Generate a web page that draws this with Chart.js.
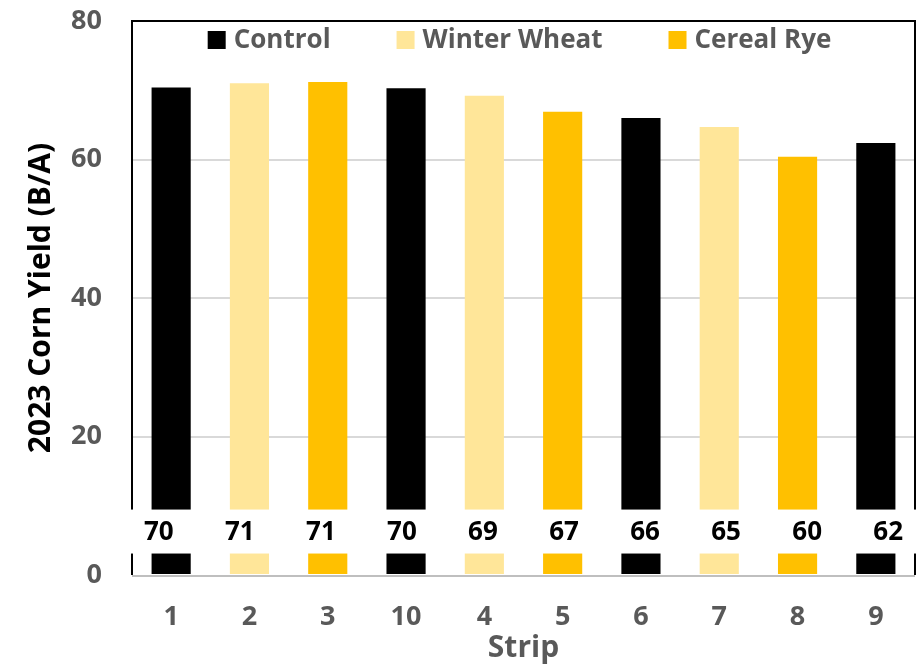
<!DOCTYPE html>
<html>
<head>
<meta charset="utf-8">
<title>2023 Corn Yield by Strip</title>
<script src="https://cdn.jsdelivr.net/npm/chart.js@4.4.1/dist/chart.umd.min.js"></script>
<style>
  body { margin: 0; background: #ffffff; }
  #chart { display: block; }
</style>
</head>
<body>
<canvas id="chart" width="917" height="666"></canvas>
<script>
// Strip order as shown on the x axis
const strips = ["1", "2", "3", "10", "4", "5", "6", "7", "8", "9"];
// Cover crop treatment of each strip
const stripTreatment = [
  "Control", "Winter Wheat", "Cereal Rye", "Control", "Winter Wheat",
  "Cereal Rye", "Control", "Winter Wheat", "Cereal Rye", "Control",
];
// Corn yield, bushels per acre
const yields = [70.4, 71.0, 71.2, 70.3, 69.2, 66.9, 66.0, 64.7, 60.4, 62.4];
// Legend entries
const treatments = ["Control", "Winter Wheat", "Cereal Rye"];

const treatmentColors = {
  "Control": "#000000",
  "Winter Wheat": "#FFE699",
  "Cereal Rye": "#FFC000",
};

const FONT = "'Open Sans', 'Noto Sans', sans-serif";
const GREY_TEXT = "#595959";

// Frame: black on left / top / right, grey along the bottom axis
const framePlugin = {
  id: "frame",
  beforeDatasetsDraw(chart) {
    const { ctx, chartArea: a } = chart;
    ctx.save();
    ctx.strokeStyle = "#000000";
    ctx.lineWidth = 2;
    ctx.beginPath();
    ctx.moveTo(a.left, a.bottom);
    ctx.lineTo(a.left, a.top);
    ctx.lineTo(a.right, a.top);
    ctx.lineTo(a.right, a.bottom);
    ctx.stroke();
    ctx.restore();
  },
  afterDatasetsDraw(chart) {
    const { ctx, chartArea: a } = chart;
    ctx.save();
    ctx.strokeStyle = "#BFBFBF";
    ctx.lineWidth = 2;
    ctx.beginPath();
    ctx.moveTo(a.left, a.bottom + 1);
    ctx.lineTo(a.right, a.bottom + 1);
    ctx.stroke();
    ctx.restore();
  },
};

// Value labels sit in a white band low in the plot, over the bars
const valueBandPlugin = {
  id: "valueBand",
  afterDatasetsDraw(chart) {
    const { ctx, chartArea: a, scales } = chart;
    const yTop = scales.y.getPixelForValue(9.45);
    const yBot = scales.y.getPixelForValue(3.1);
    ctx.save();
    ctx.fillStyle = "#ffffff";
    ctx.fillRect(a.left - 4, yTop, chart.width - a.left + 4, yBot - yTop);

    const cx = (a.left + a.right) / 2;
    const meta = chart.getDatasetMeta(0);
    ctx.fillStyle = "#000000";
    ctx.font = `bold 26px ${FONT}`;
    ctx.textAlign = "center";
    ctx.textBaseline = "middle";
    meta.data.forEach((bar, i) => {
      // labels are spread slightly wider than the bars in the original
      const x = cx + (bar.x - cx) * 1.035;
      ctx.fillText(Math.round(yields[i]).toString(), x, (yTop + yBot) / 2 + 1);
    });
    ctx.restore();
  },
};

// Legend drawn inside the top of the plot area
const insideLegendPlugin = {
  id: "insideLegend",
  afterDraw(chart) {
    const { ctx, chartArea: a } = chart;
    const box = 18;
    const boxGap = 8;
    const itemGap = 66;
    ctx.save();
    ctx.font = `bold 26px ${FONT}`;
    const widths = treatments.map((t) => ctx.measureText(t).width);
    const total =
      widths.reduce((s, w) => s + box + boxGap + w, 0) +
      itemGap * (treatments.length - 1);
    let x = (a.left + a.right) / 2 - total / 2 - 4;
    const y = a.top + 19;
    treatments.forEach((t, i) => {
      ctx.fillStyle = treatmentColors[t];
      ctx.fillRect(x, y - box / 2, box, box);
      x += box + boxGap;
      ctx.fillStyle = GREY_TEXT;
      ctx.textAlign = "left";
      ctx.textBaseline = "middle";
      ctx.fillText(t, x, y + 1);
      x += widths[i] + itemGap;
    });
    ctx.restore();
  },
};

const ctx = document.getElementById("chart").getContext("2d");

new Chart(ctx, {
  type: "bar",
  data: {
    labels: strips,
    datasets: [
      {
        label: "2023 Corn Yield",
        data: yields,
        backgroundColor: stripTreatment.map((t) => treatmentColors[t]),
        borderWidth: 0,
        barPercentage: 0.5,
        categoryPercentage: 1.0,
      },
    ],
  },
  options: {
    responsive: false,
    animation: false,
    layout: {
      padding: { top: 21, right: 2, left: 23, bottom: 0 },
    },
    plugins: {
      legend: { display: false },
      tooltip: { enabled: false },
    },
    scales: {
      x: {
        grid: { display: false, drawTicks: false },
        border: { display: false },
        ticks: {
          color: GREY_TEXT,
          font: { family: FONT, size: 27, weight: "bold" },
          padding: 26,
        },
        title: {
          display: true,
          text: "Strip",
          color: GREY_TEXT,
          font: { family: FONT, size: 30, weight: "bold" },
          padding: { top: 0, bottom: 0 },
        },
        afterFit(axis) {
          axis.height = 91;
          axis.paddingLeft = 0;
          axis.paddingRight = 0;
        },
      },
      y: {
        min: 0,
        max: 80,
        ticks: {
          stepSize: 20,
          color: GREY_TEXT,
          font: { family: FONT, size: 27, weight: "bold" },
          padding: 30,
        },
        grid: {
          color: (c) => (c.tick.value === 0 || c.tick.value === 80 ? "rgba(0,0,0,0)" : "#D9D9D9"),
          lineWidth: 2,
          drawTicks: false,
        },
        border: { display: false },
        title: {
          display: true,
          text: "2023 Corn Yield (B/A)",
          color: "#000000",
          font: { family: FONT, size: 30, weight: "bold" },
          padding: { top: 0, bottom: 4 },
        },
        afterFit(axis) {
          axis.width = 109;
          axis.paddingTop = 0;
          axis.paddingBottom = 0;
        },
      },
    },
  },
  plugins: [framePlugin, valueBandPlugin, insideLegendPlugin],
});
</script>
</body>
</html>
